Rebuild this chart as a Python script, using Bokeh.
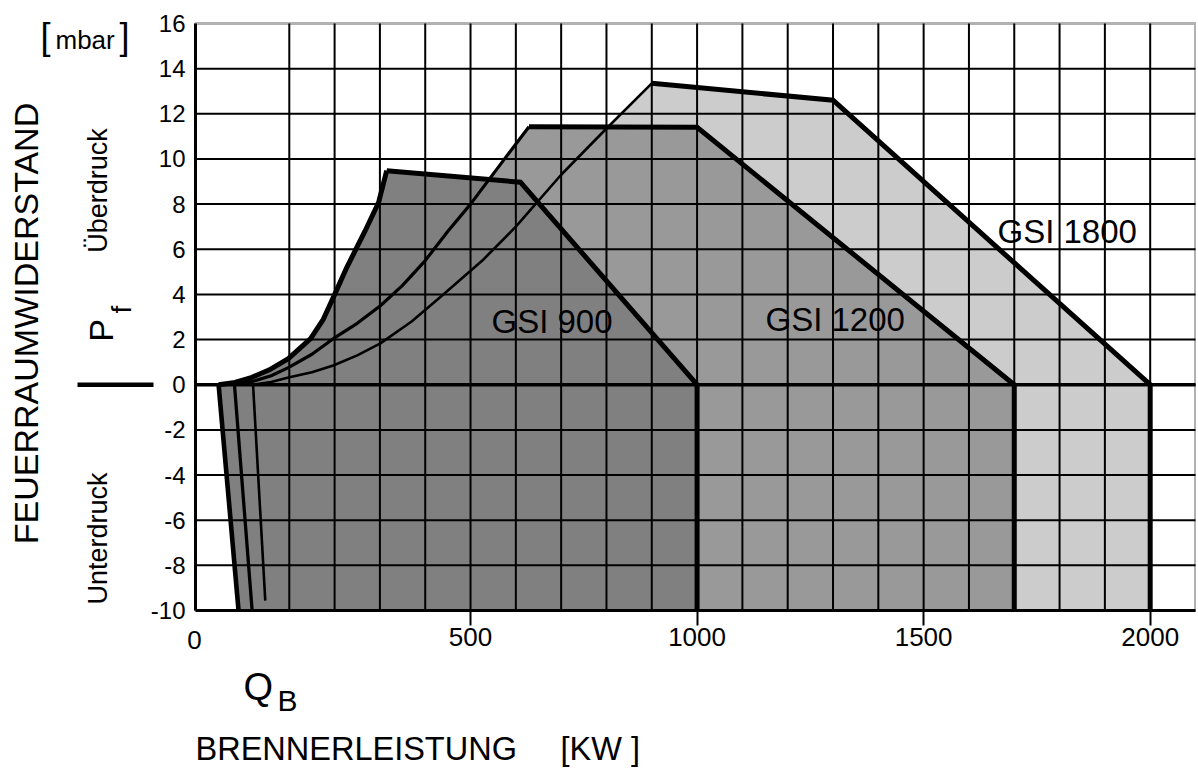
import math
from bokeh.plotting import figure
from bokeh.models import Range1d, FixedTicker, Label, BoxAnnotation
from bokeh.embed import file_html
from bokeh.resources import INLINE

# ---------------- data (kW, mbar) ----------------
# GSI 900
gsi900_left_x = [-12, -56]
gsi900_left_y = [-10, 0]
gsi900_curve_x = [-56, -20, 14, 55, 98, 147, 175, 197, 227, 249, 267, 297, 315]
gsi900_curve_y = [0, 0.1, 0.3, 0.65, 1.16, 2.04, 2.9, 3.86, 5.2, 6.08, 6.8, 8.07, 9.48]
gsi900_top_x = [315, 610, 1000, 1000]
gsi900_top_y = [9.48, 8.97, 0, -10]

# GSI 1200
gsi1200_left_x = [18, -21]
gsi1200_left_y = [-10, 0]
gsi1200_curve_x = [-21, 20, 60, 98, 150, 197, 250, 301, 350, 400, 450, 500, 573, 629]
gsi1200_curve_y = [0, 0.15, 0.4, 0.76, 1.35, 2.04, 2.72, 3.5, 4.4, 5.5, 6.8, 8.0, 9.95, 11.43]
gsi1200_top_x = [629, 1000, 1700, 1700]
gsi1200_top_y = [11.43, 11.4, 0, -10]

# GSI 1800
gsi1800_left_x = [47, 20]
gsi1800_left_y = [-9.56, 0]
gsi1800_curve_x = [20, 60, 98, 150, 197, 250, 301, 370, 440, 526, 600, 700, 800, 900]
gsi1800_curve_y = [0, 0.12, 0.32, 0.55, 0.85, 1.3, 1.83, 2.8, 4.0, 5.5, 7.0, 9.3, 11.35, 13.35]
gsi1800_top_x = [900, 1300, 2000, 2000]
gsi1800_top_y = [13.35, 12.6, 0, -10]

series_names = ["GSI 900", "GSI 1200", "GSI 1800"]
x_tick_values = [500, 1000, 1500, 2000]
y_tick_values = list(range(-10, 17, 2))
x_grid_values = list(range(100, 2001, 100))
y_grid_values = list(range(-8, 15, 2))

# ---------------- layout ----------------
FONT = "Liberation Sans"
X_START, X_END = -107, 2100          # chart area (left edge is labelled "0")
Y_START, Y_END = -10, 16
CANVAS_W, CANVAS_H = 1196, 768
CH_L, CH_R, CH_T, CH_B = 195, 1195, 23, 610   # chart area in canvas pixels
KX = (X_END - X_START) / (CH_R - CH_L)
KY = (Y_END - Y_START) / (CH_B - CH_T)


def sx(px):
    return X_START + (px - CH_L) * KX


def sy(py):
    return Y_START + (CH_B - py) * KY


p = figure(
    frame_width=CANVAS_W,
    frame_height=CANVAS_H,
    x_range=Range1d(sx(0), sx(CANVAS_W)),
    y_range=Range1d(sy(CANVAS_H), sy(0)),
    output_backend="svg",
    toolbar_location=None,
    min_border=0,
    background_fill_color="white",
    border_fill_color="white",
    outline_line_color=None,
)
p.xgrid.visible = False
p.ygrid.visible = False

# fills: light (1800) -> mid (1200) -> dark (900)
envelopes = [
    (gsi1800_left_x, gsi1800_left_y, gsi1800_curve_x, gsi1800_curve_y, gsi1800_top_x, gsi1800_top_y, "#cccccc", 2.6, 2.6),
    (gsi1200_left_x, gsi1200_left_y, gsi1200_curve_x, gsi1200_curve_y, gsi1200_top_x, gsi1200_top_y, "#999999", 3.3, 3.2),
    (gsi900_left_x, gsi900_left_y, gsi900_curve_x, gsi900_curve_y, gsi900_top_x, gsi900_top_y, "#808080", 4.6, 5.0),
]
for lx, ly, cx, cy, tx, ty, col, wl, wc in envelopes:
    xs = [lx[0]] + cx + tx[1:]
    ys = [Y_START] + cy + ty[1:]
    p.patch(xs, ys, fill_color=col, line_color=None)

# grid
p.segment(x0=x_grid_values, y0=[Y_START] * len(x_grid_values),
          x1=x_grid_values, y1=[Y_END] * len(x_grid_values),
          line_color="black", line_width=2)
p.segment(x0=[X_START] * len(y_grid_values), y0=y_grid_values,
          x1=[X_END] * len(y_grid_values), y1=y_grid_values,
          line_color="black", line_width=2)

# outlines
for lx, ly, cx, cy, tx, ty, col, wl, wc in envelopes:
    p.line(lx, ly, line_color="black", line_width=wl)
    p.line(cx, cy, line_color="black", line_width=wc, line_join="round")
    p.line(tx, ty, line_color="black", line_width=5, line_join="miter")

# zero line across the chart and marker bar left of the axis
p.segment(x0=[X_START], y0=[0], x1=[X_END], y1=[0], line_color="black", line_width=3.5)
p.segment(x0=[sx(77)], y0=[0], x1=[sx(153)], y1=[0], line_color="black", line_width=4.5)

# chart border
p.add_layout(BoxAnnotation(left=X_START, right=X_END, bottom=Y_START, top=Y_END,
                           fill_alpha=0, line_color="black", line_width=3))

# axes (fixed on the chart border)
xa = p.xaxis[0]
xa.fixed_location = Y_START
xa.bounds = (X_START, X_END)
xa.ticker = FixedTicker(ticks=x_tick_values)
xa.major_tick_out = 15
xa.major_tick_in = 0
xa.major_tick_line_width = 2
xa.major_tick_line_color = "black"
xa.minor_tick_line_color = None
xa.axis_line_color = "black"
xa.axis_line_width = 3
xa.major_label_text_font = FONT
xa.major_label_text_font_size = "26px"
xa.major_label_text_color = "black"
xa.major_label_standoff = 2

ya = p.yaxis[0]
ya.fixed_location = X_START
ya.bounds = (Y_START, Y_END)
ya.ticker = FixedTicker(ticks=y_tick_values)
ya.major_tick_out = 0
ya.major_tick_in = 0
ya.minor_tick_line_color = None
ya.axis_line_color = "black"
ya.axis_line_width = 3
ya.major_label_text_font = FONT
ya.major_label_text_font_size = "24px"
ya.major_label_text_color = "black"
ya.major_label_standoff = 10
ya.major_label_overrides = {v: (f"-{abs(v)}" if v < 0 else str(v)) for v in y_tick_values}


def label(text, px, py, size, align="left", angle=0.0):
    # (px, py): baseline position in canvas pixels; compensate renderer offset
    if angle == 0.0:
        py = py - 0.31 * size
    else:
        px = px - 0.45 * size
    p.add_layout(Label(x=sx(px), y=sy(py), text=text, text_font=FONT,
                       text_font_size=f"{size}px", text_color="black",
                       text_align=align, text_baseline="alphabetic", angle=angle))


# "0" at the left edge of the x axis
label("0", 194, 648, 26, align="center")

# series labels
label(series_names[0], 491, 331, 33)
label(series_names[1], 765, 329, 33)
label(series_names[2], 997, 241, 33)

# unit on y axis
label("[", 40, 47, 36)
label("mbar", 55, 48, 26)
label("]", 119, 47, 36)

# y axis titles (rotated)
up = math.pi / 2
label("FEUERRAUMWIDERSTAND", 41, 323, 34, align="center", angle=up)
label("Überdruck", 110, 190, 27, align="center", angle=up)
label("Unterdruck", 110, 538, 27, align="center", angle=up)
label("P", 116, 330, 34, align="center", angle=up)
label("f", 134, 309, 28, align="center", angle=up)

# x axis titles
label("Q", 243, 698, 38)
label("B", 277, 709, 30)
label("BRENNERLEISTUNG", 195, 759, 32.5)
label("[KW ]", 560, 759, 32.5)

open("out.html", "w").write(file_html(p, INLINE))
